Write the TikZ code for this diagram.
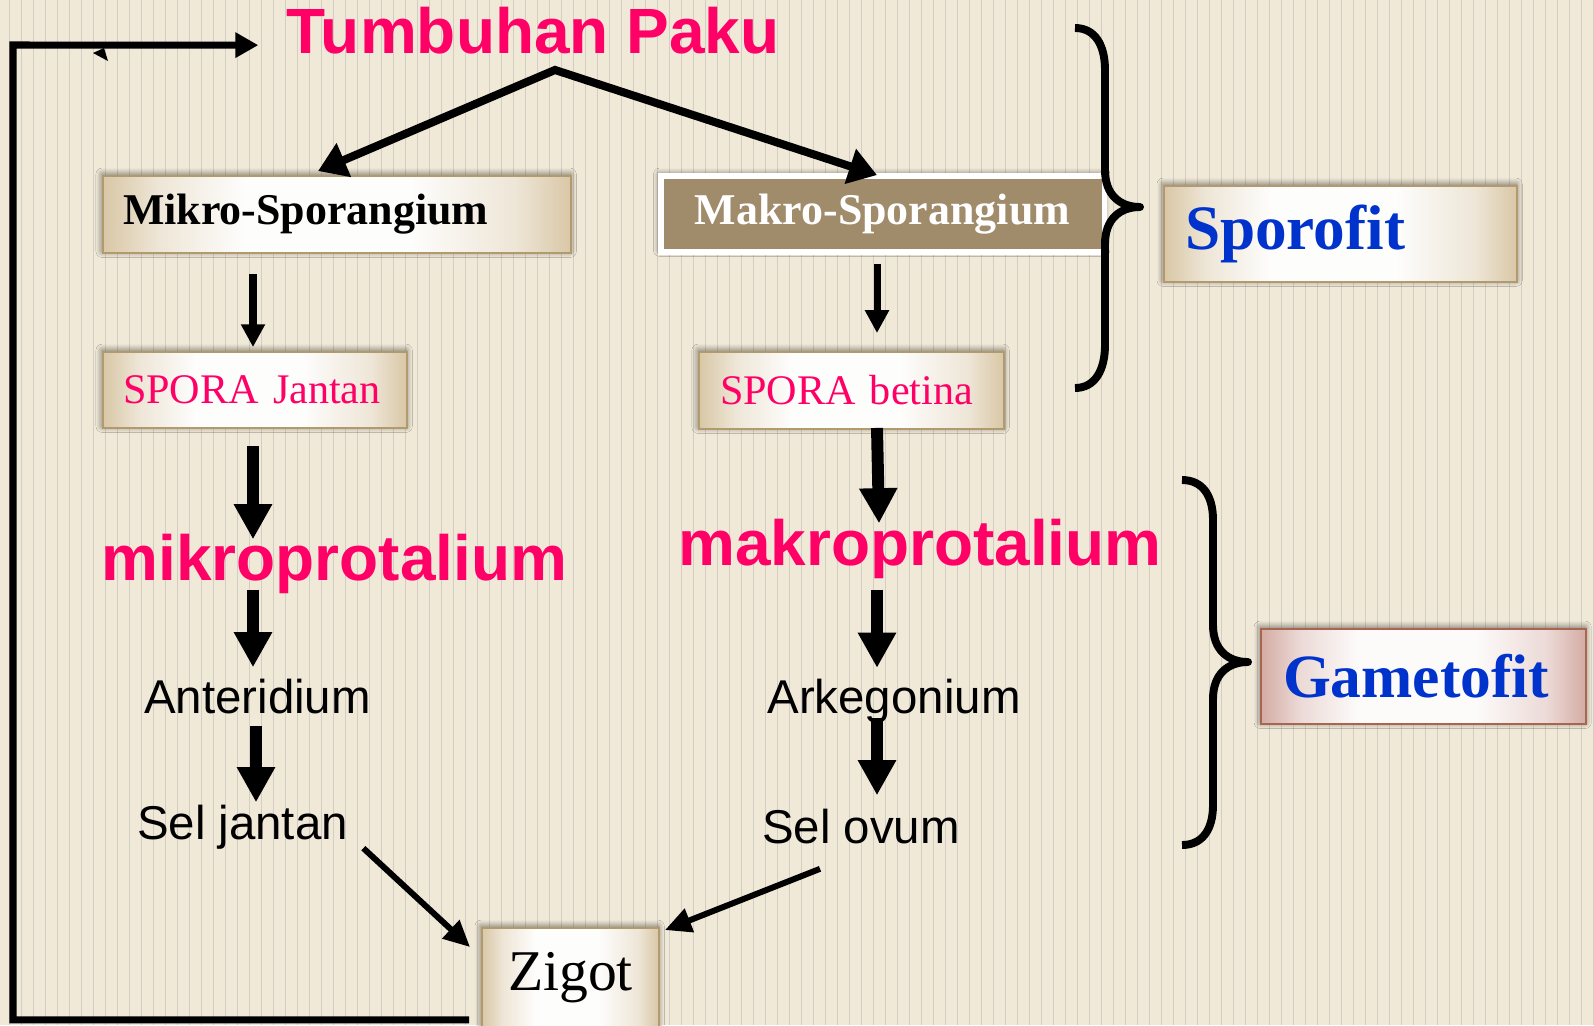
\documentclass[tikz,border=0pt]{standalone}
\usepackage{fontspec}
\setmainfont{Liberation Serif}
\setsansfont{Liberation Sans}
\usetikzlibrary{positioning,arrows.meta,calc,shadows.blur}
\definecolor{pakubg}{HTML}{F0E9D8}
\definecolor{pakustripe}{HTML}{D4CDC3}
\definecolor{pakupink}{HTML}{FF0066}
\definecolor{pakublue}{HTML}{0033CC}
\definecolor{pakutan}{HTML}{D9C7A6}
\definecolor{pakuedge}{HTML}{B09A6E}
\definecolor{pakubrown}{HTML}{A08B6A}
\definecolor{pakurose}{HTML}{D4ACA4}
\definecolor{pakuroseedge}{HTML}{A8654F}
\pgfdeclarehorizontalshading{pakuglow}{100bp}{color(0bp)=(pakutan); color(25bp)=(pakutan);
  color(31bp)=(pakutan!45!white); color(40bp)=(white!96!pakutan); color(58bp)=(white!96!pakutan);
  color(69bp)=(pakutan!45!white); color(75bp)=(pakutan); color(100bp)=(pakutan)}
\pgfdeclarehorizontalshading{roseglow}{100bp}{color(0bp)=(pakurose); color(25bp)=(pakurose);
  color(31bp)=(pakurose!45!white); color(40bp)=(white!95!pakurose); color(58bp)=(white!95!pakurose);
  color(69bp)=(pakurose!45!white); color(75bp)=(pakurose); color(100bp)=(pakurose)}

\begin{document}
\begin{tikzpicture}[x=0.02cm, y=-0.02cm,
  bigword/.style={font=\sffamily\bfseries\fontsize{36.4}{40}\selectfont, text=pakupink, inner sep=0pt, anchor=base},
  stage/.style={font=\sffamily\fontsize{27}{30}\selectfont, inner sep=0pt, anchor=base},
  shd/.style={blur shadow={shadow xshift=-0.5pt, shadow yshift=1pt, shadow blur radius=3.5pt,
                           shadow blur steps=12, shadow opacity=55}},
  tanbox/.style={shd, draw=pakuedge, line width=1.1pt, shading=pakuglow,
                 align=left, inner ysep=0pt, minimum height=43.8pt},
  rosebox/.style={tanbox, draw=pakuroseedge, shading=roseglow},
  thinarr/.style={-{Triangle[length=13pt, width=13pt]}, line width=4pt},
  fatarr/.style={-{Triangle[length=20pt, width=20.5pt]}, line width=6.8pt},
  toparr/.style={{Triangle[length=16pt, width=20pt]}-{Triangle[length=16pt, width=20pt]}, line width=4.6pt},
  zigarr/.style={-{Triangle[length=15pt, width=13.7pt]}, line width=3.4pt},
  looparr/.style={-{Triangle[length=13pt, width=13.7pt]}, line width=4pt},
  brc/.style={line width=4.5pt, line join=round},
]
\path[use as bounding box, clip] (0,0) rectangle (1594,1025);
% striped paper
\fill[pakubg] (0,0) rectangle (1594,1025);
\foreach \sx in {9.5,21.5,...,1594} \draw[pakustripe, line width=1pt] (\sx,0) -- (\sx,1025);

% sporofit generation
\node[bigword] (title) at (533,53) {Tumbuhan Paku};
\node[tanbox, text width=243.6pt, inner xsep=11.4pt, font=\bfseries\fontsize{25}{28}\selectfont] (mikro) at (337,214.5) {Mikro-Sporangium};
\node[shd, fill=pakubrown, draw=white, line width=3.4pt, minimum width=252.7pt, minimum height=43.2pt, inner sep=0pt,
      text=white, font=\bfseries\fontsize{25}{28}\selectfont] (makro) at (882.5,214) {Makro-Sporangium};
\node[tanbox, text width=150.2pt, inner xsep=11.4pt, minimum height=43.2pt, text=pakupink, font=\fontsize{24}{28}\selectfont] (sporaj) at (255,390) {SPORA Jantan};
\node[tanbox, text width=149.7pt, inner xsep=11.95pt, text=pakupink, font=\fontsize{24}{28}\selectfont] (sporab) at (851.5,390.5) {SPORA betina};

% gametofit generation
\node[bigword] (mikrop) at (334.5,580) {mikroprotalium};
\node[bigword] (makrop) at (920,565) {makroprotalium};
\node[stage] (anter) at (257.5,713) {Anteridium};
\node[stage] (arkeg) at (894,713) {Arkegonium};
\node[stage] (seljan) at (242.5,839) {Sel jantan};
\node[stage] (selov) at (861,843) {Sel ovum};
\node[tanbox, minimum width=100.7pt, minimum height=56.9pt, inner xsep=0pt, align=center,
      font=\fontsize{32.8}{36}\selectfont] (zigot) at (570.5,978) {Zigot};

% labels on the right
\node[tanbox, text width=177pt, inner xsep=11.95pt, minimum height=54.6pt, text=pakublue,
      font=\bfseries\fontsize{36}{40}\selectfont] (sporofit) at (1340.5,234) {Sporofit};
\node[rosebox, text width=159.9pt, inner xsep=12.5pt, minimum height=54.1pt, text=pakublue,
      font=\bfseries\fontsize{35}{40}\selectfont] (gameto) at (1423.5,676.5) {Gametofit};

% arrows
\coordinate (apex) at ($(title.south)+(22,16)$);
\draw[toparr] ($(mikro.north)+(-19,-4)$) -- (apex) -- ($(makro.north)+(-5.5,2)$);

\draw[thinarr] ($(mikro.south)+(-84,20)$) -- ($(sporaj.north)+(-2,-4)$);
\draw[fatarr] ($(sporaj.south)+(-2,17)$) -- ($(sporaj.south |- mikrop.north)+(-2,6)$);
\draw[fatarr] ($(sporaj.south |- mikrop.south)+(-2,-4)$) -- ($(sporaj.south |- anter.north)+(-2,-11)$);
\draw[fatarr] ($(sporaj.south |- anter.south)+(1,12)$) -- ($(sporaj.south |- seljan.north)+(1,-2)$);

\draw[thinarr] ($(makro.south)+(-5.5,9)$) -- ($(makro.south |- sporab.north)+(-5.5,-18)$);
\draw[fatarr] ($(makro.south |- sporab.south)+(-5.5,-2)$) -- ($(makro.south |- makrop.north)+(-3.5,5)$);
\draw[fatarr] ($(makro.south |- makrop.south)+(-5.5,11)$) -- ($(makro.south |- arkeg.north)+(-5.5,-10.5)$);
\draw[fatarr] ($(makro.south |- arkeg.south)+(-5.5,-5)$) -- ($(makro.south |- selov.north)+(-5.5,-13)$);

\draw[zigarr] ($(seljan.south east)+(15,-1)$) -- ($(zigot.north west)+(-11,20)$);
\draw[zigarr] ($(selov.south)+(-41,25)$) -- ($(zigot.north east)+(5,3)$);

\draw[looparr] ($(zigot.south west)+(-12,-9)$) -| (13,45) -- ($(title.west)+(-28,15)$);
\fill (93,53) -- (104,48) -- (108,61) -- cycle;

% braces
\draw[brc] (1075,28) .. controls (1095,28) and (1105,45) .. (1105,70) -- (1105,170)
  .. controls (1105,195) and (1120,207) .. (1140,207)
  .. controls (1120,207) and (1105,219) .. (1105,244) -- (1105,345)
  .. controls (1105,370) and (1095,388) .. (1075,388);
\draw[brc] (1182,480) .. controls (1202,480) and (1213,495) .. (1213,520) -- (1213,625)
  .. controls (1213,650) and (1228,662) .. (1248,662)
  .. controls (1228,662) and (1213,674) .. (1213,699) -- (1213,805)
  .. controls (1213,830) and (1202,845) .. (1182,845);
\end{tikzpicture}
\end{document}
